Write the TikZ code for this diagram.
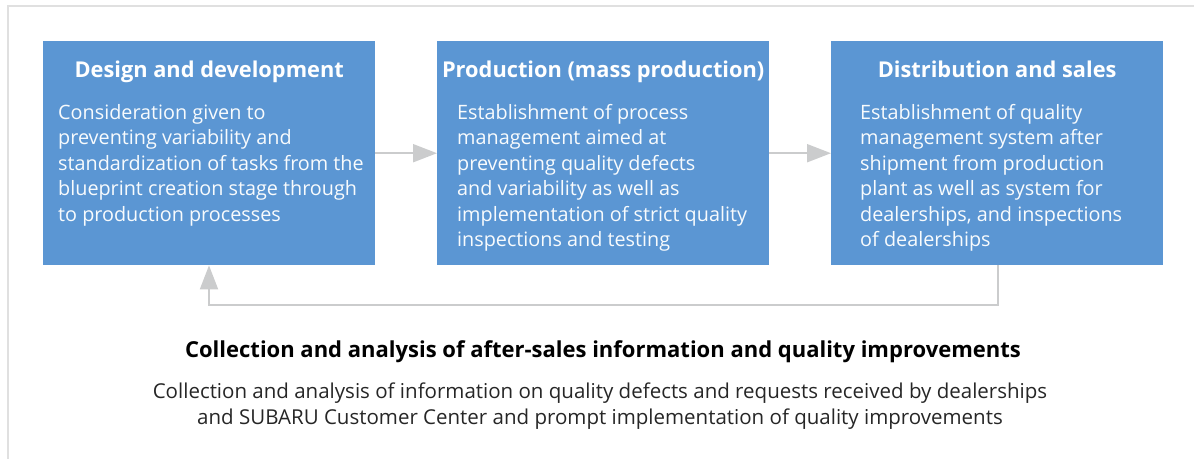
\documentclass[tikz,border=0pt]{standalone}
\usepackage{fontspec}
\setmainfont{Open Sans}
\usepackage{xcolor}
\usetikzlibrary{arrows.meta,positioning,calc}

\definecolor{stageblue}{RGB}{91,150,211}
\definecolor{linkgray}{RGB}{203,204,205}
\definecolor{framegray}{RGB}{224,224,224}
\definecolor{notegray}{RGB}{38,38,38}

\begin{document}
\begin{tikzpicture}[
  x=1pt, y=-1pt,
  >={Triangle[length=24pt,width=18pt]},
  stage/.style={
    fill=stageblue, inner sep=0pt, anchor=north west,
    minimum width=332pt, minimum height=224pt
  },
  title/.style={
    text=white, inner sep=0pt, anchor=base,
    font=\fontsize{21.8}{26}\selectfont\bfseries
  },
  body/.style={
    text=white!96!stageblue, inner sep=0pt, anchor=north west, align=left,
    font=\fontsize{19.8}{25.5}\selectfont
  },
  link/.style={->, line width=2pt, linkgray}
]

\useasboundingbox (0,0) rectangle (1194,459);

% Frame
\draw[framegray, line width=2pt] (1194,6) -- (8,6) -- (8,459);

% Stage 1: design
\node[stage] (design) at (43,41) {};
\node[title] (designT) at ($(design.north)+(0,36)$) {Design and development};
\node[body] (designB) at ($(design.north west)+(15,63)$) {
  Consideration given to\\
  preventing variability and\\
  standardization of tasks from the\\
  blueprint creation stage through\\
  to production processes
};

% Stage 2: production
\node[stage] (production) at (437,41) {};
\node[title] (productionT) at ($(production.north)+(0,36)$) {Production (mass production)};
\node[body] (productionB) at ($(production.north west)+(20,63)$) {
  Establishment of process\\
  management aimed at\\
  preventing quality defects\\
  and variability as well as\\
  implementation of strict quality\\
  inspections and testing
};

% Stage 3: sales
\node[stage] (sales) at (831,41) {};
\node[title] (salesT) at ($(sales.north)+(0,36)$) {Distribution and sales};
\node[body] (salesB) at ($(sales.north west)+(29,63)$) {
  Establishment of quality\\
  management system after\\
  shipment from production\\
  plant as well as system for\\
  dealerships, and inspections\\
  of dealerships
};

% Connecting Arrows
\draw[link] (design) -- (production);
\draw[link] (production) -- (sales);
\draw[link] ([xshift=167pt]sales.south west) -- ++(0,40) -| ([xshift=166pt]design.south west);

% Bottom notes
\node[inner sep=0pt, anchor=base, text=black, font=\fontsize{22}{26}\selectfont\bfseries] (feedbackT) at (603,357)
  {Collection and analysis of after-sales information and quality improvements};
\node[inner sep=0pt, anchor=north, align=center, text=notegray, font=\fontsize{20.5}{26}\selectfont] (feedbackB) at ($(feedbackT.base)+(-3,26)$)
  {Collection and analysis of information on quality defects and requests received by dealerships\\
   and SUBARU Customer Center and prompt implementation of quality improvements};

\end{tikzpicture}
\end{document}
